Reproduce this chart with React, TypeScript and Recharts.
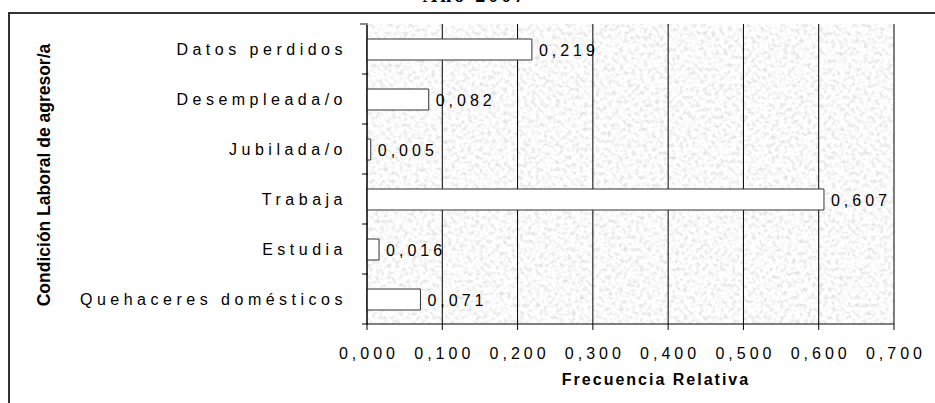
import React from "react";
import {
  BarChart,
  Bar,
  XAxis,
  YAxis,
  CartesianGrid,
  LabelList,
} from "recharts";

const categories = [
  "Datos perdidos",
  "Desempleada/o",
  "Jubilada/o",
  "Trabaja",
  "Estudia",
  "Quehaceres domésticos",
];
const values = [0.219, 0.082, 0.005, 0.607, 0.016, 0.071];
const xTicks = [0, 0.1, 0.2, 0.3, 0.4, 0.5, 0.6, 0.7];
const chartTitle = "Año 2007";
const xTitle = "Frecuencia Relativa";
const yTitle = "Condición Laboral de agresor/a";

const data = categories.map((name, i) => ({ name, value: values[i] }));

const FONT = '"Liberation Sans", Arial, sans-serif';
const fmt = (v: number) => v.toFixed(3).replace(".", ",");

const YTick = (props: any) => {
  const { x, y, payload, index } = props;
  const half = payload && payload.offset ? payload.offset : 25;
  const ax = x + 9;
  return (
    <g>
      <text
        x={ax - 21}
        y={y + 6}
        textAnchor="end"
        fill="#000"
        style={{ fontFamily: FONT, fontSize: 16, letterSpacing: "4.5px" }}
      >
        {payload.value}
      </text>
      <line x1={ax - 6} x2={ax} y1={y + half} y2={y + half} stroke="#000" />
      {index === 0 ? (
        <line x1={ax - 8} x2={ax} y1={y - half} y2={y - half} stroke="#888" strokeWidth={2} />
      ) : null}
    </g>
  );
};

const XTick = (props: any) => {
  const { x, y, payload } = props;
  return (
    <text
      x={x + 2}
      y={y + 27}
      textAnchor="middle"
      fill="#000"
      style={{ fontFamily: FONT, fontSize: 16, letterSpacing: "4px" }}
    >
      {fmt(payload.value)}
    </text>
  );
};

const ValueLabel = (props: any) => {
  const { x, y, width, height, value } = props;
  return (
    <text
      x={x + width + 7}
      y={y + height / 2 + 6}
      textAnchor="start"
      fill="#000"
      style={{ fontFamily: FONT, fontSize: 16, letterSpacing: "4px" }}
    >
      {fmt(value)}
    </text>
  );
};

export default function App() {
  return (
    <div
      style={{
        position: "absolute",
        left: 0,
        top: 0,
        width: 935,
        height: 403,
        background: "#fff",
        overflow: "hidden",
      }}
    >
      <svg
        width={935}
        height={403}
        style={{ position: "absolute", left: 0, top: 0 }}
      >
        <line x1={8} x2={935} y1={13} y2={13} stroke="#333" strokeWidth={2} />
        <line x1={9} x2={9} y1={12} y2={403} stroke="#333" strokeWidth={2} />
        <text
          x={475}
          y={2}
          textAnchor="middle"
          fill="#000"
          style={{
            fontFamily: '"Liberation Serif", serif',
            fontWeight: "bold",
            fontSize: 20,
            letterSpacing: "3px",
          }}
        >
          {chartTitle}
        </text>
        <text
          x={656}
          y={385}
          textAnchor="middle"
          fill="#000"
          style={{
            fontFamily: FONT,
            fontWeight: "bold",
            fontSize: 16,
            letterSpacing: "2px",
          }}
        >
          {xTitle}
        </text>
        <text
          x={50}
          y={175}
          textAnchor="middle"
          fill="#000"
          transform="rotate(-90 50 175)"
          style={{ fontFamily: FONT, fontWeight: "bold", fontSize: 17.5 }}
        >
          {yTitle}
        </text>
      </svg>
      <div style={{ position: "absolute", left: 0, top: 0 }}>
        <BarChart
          width={935}
          height={403}
          data={data}
          layout="vertical"
          margin={{ top: 24, right: 41, bottom: 0, left: 0 }}
        >
          <defs>
            <filter
              id="noiseF"
              x="0"
              y="0"
              width="100%"
              height="100%"
              colorInterpolationFilters="sRGB"
            >
              <feTurbulence
                type="fractalNoise"
                baseFrequency="0.25"
                numOctaves={3}
                seed={7}
              />
              <feColorMatrix
                type="matrix"
                values="0.3 0 0 0 0.83  0.3 0 0 0 0.83  0.3 0 0 0 0.83  0 0 0 0 1"
              />
            </filter>
            <pattern
              id="tex"
              patternUnits="userSpaceOnUse"
              x={0}
              y={0}
              width={935}
              height={403}
            >
              <rect x={0} y={0} width={935} height={403} filter="url(#noiseF)" />
            </pattern>
          </defs>
          <CartesianGrid
            horizontal={false}
            stroke="#000"
            strokeOpacity={1}
            fill="url(#tex)"
            fillOpacity={1}
          />
          <XAxis
            type="number"
            domain={[0, 0.7]}
            ticks={xTicks}
            height={79}
            tick={<XTick />}
            tickSize={6}
            tickLine={{ stroke: "#000" }}
            axisLine={{ stroke: "#000" }}
            interval={0}
          />
          <XAxis
            xAxisId="top"
            orientation="top"
            type="number"
            domain={[0, 0.7]}
            height={0}
            tick={false}
            tickLine={false}
            axisLine={{ stroke: "#888", strokeWidth: 2 }}
          />
          <YAxis
            type="category"
            dataKey="name"
            width={367}
            tick={<YTick />}
            tickLine={false}
            axisLine={{ stroke: "#000" }}
            interval={0}
          />
          <YAxis
            yAxisId="right"
            orientation="right"
            type="category"
            dataKey="name"
            width={0}
            tick={false}
            tickLine={false}
            axisLine={{ stroke: "#888", strokeWidth: 2 }}
          />
          <Bar
            dataKey="value"
            fill="#fff"
            stroke="#333"
            strokeWidth={1}
            barSize={21}
            isAnimationActive={false}
          >
            <LabelList dataKey="value" content={<ValueLabel />} />
          </Bar>
        </BarChart>
      </div>
    </div>
  );
}
